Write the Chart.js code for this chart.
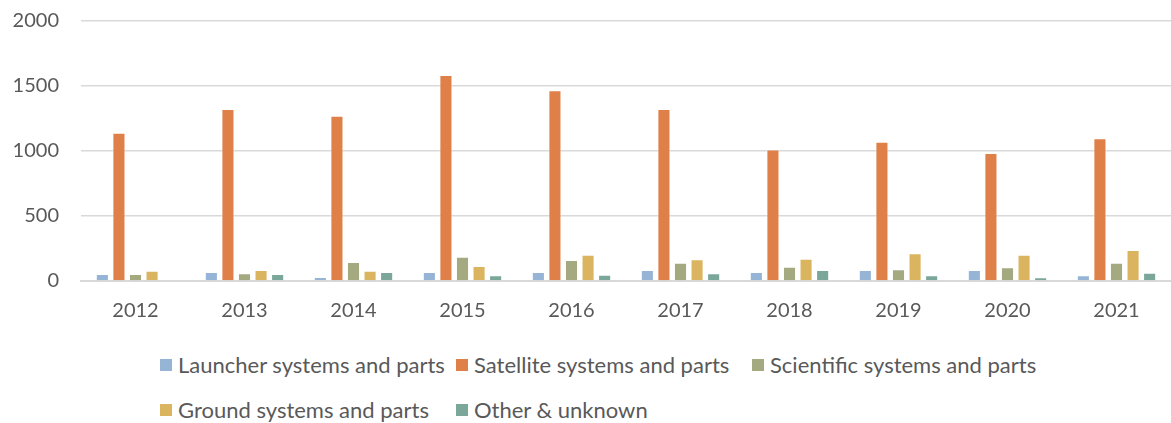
<!DOCTYPE html>
<html>
<head>
<meta charset="utf-8">
<script src="https://cdn.jsdelivr.net/npm/chart.js@4.4.1/dist/chart.umd.min.js"></script>
<style>
body{margin:0;background:#fff;font-family:Lato,"Open Sans",sans-serif;}
#wrap{position:relative;width:1171px;height:423px;}
#chartBox{position:absolute;left:0;top:0;width:1171px;height:330px;}
#legend{position:absolute;left:160px;top:351px;width:1000px;}
.row{height:45px;display:flex;align-items:flex-start;}
.item{width:296px;display:flex;align-items:center;color:#595959;font-size:22px;line-height:28px;white-space:nowrap;}
.box{width:12px;height:12px;margin-right:6px;flex:none;}
</style>
</head>
<body>
<div id="wrap">
<div id="chartBox"><canvas id="spaceChart"></canvas></div>
<div id="legend"></div>
</div>
<script>

const years = ["2012","2013","2014","2015","2016","2017","2018","2019","2020","2021"];

const launcher = [54,69,31,69,69,85,69,85,85,44];
const satellite = [1141,1323,1272,1585,1467,1323,1011,1072,985,1098];
const scientific = [54,59,146,187,162,141,110,90,105,141];
const ground = [79,85,79,115,202,167,172,213,202,238];
const other = [5,54,69,44,49,59,85,44,28,64];

const seriesNames = ["Launcher systems and parts","Satellite systems and parts","Scientific systems and parts","Ground systems and parts","Other & unknown"];
const seriesColors = ["#95B4D6","#DF8048","#A5A980","#DAB45E","#7AA79A"];

const yTicks = [0,500,1000,1500,2000];

function makeLegend(){

const legend = document.getElementById("legend");

// excel style: 3 on the first row, rest on the second
const rows = [[0,1,2],[3,4]];

rows.forEach(function(r){

const row = document.createElement("div");
row.className = "row";

r.forEach(function(i){

const item = document.createElement("div");
item.className = "item";
item.innerHTML = '<span class="box" style="background:'+seriesColors[i]+'"></span>'+seriesNames[i].replace("&","&amp;");
row.appendChild(item);

});

legend.appendChild(row);

});

}

function loadChart(){

const values = [launcher,satellite,scientific,ground,other];

new Chart(

document.getElementById("spaceChart"),

{

type:"bar",

data:{

labels:years,

datasets:values.map(function(v,i){

return {
label:seriesNames[i],
data:v,
backgroundColor:seriesColors[i],
borderColor:"rgba(255,255,255,0.45)",
borderWidth:1,
categoryPercentage:0.76,
barPercentage:0.79
};

})

},

options:{

responsive:true,
maintainAspectRatio:false,
animation:false,

layout:{padding:{top:21,right:0,left:0,bottom:0}},

plugins:{
legend:{display:false},
tooltip:{enabled:false}
},

scales:{

x:{
grid:{display:false,drawTicks:false},
border:{color:"#D9D9D9",width:2},
ticks:{color:"#595959",font:{family:"Lato",size:20},padding:18,maxRotation:0},
afterFit:function(s){s.height = 49;}
},

y:{
min:0,
max:2000,
afterBuildTicks:function(s){s.ticks = yTicks.map(function(v){return {value:v};});},
grid:{color:"#D9D9D9",lineWidth:1.5,drawTicks:false},
border:{display:false},
ticks:{
color:"#595959",
font:{family:"Lato",size:20},
padding:22,
callback:function(v){return String(v);}
},
afterFit:function(s){
s.width = 81;
// tick padding would otherwise push the plot top down
s.paddingTop = 0;
s.paddingBottom = 0;
}
}

}

}

}

);

}

window.onload=function(){

makeLegend();

loadChart();

};

</script>
</body>
</html>
